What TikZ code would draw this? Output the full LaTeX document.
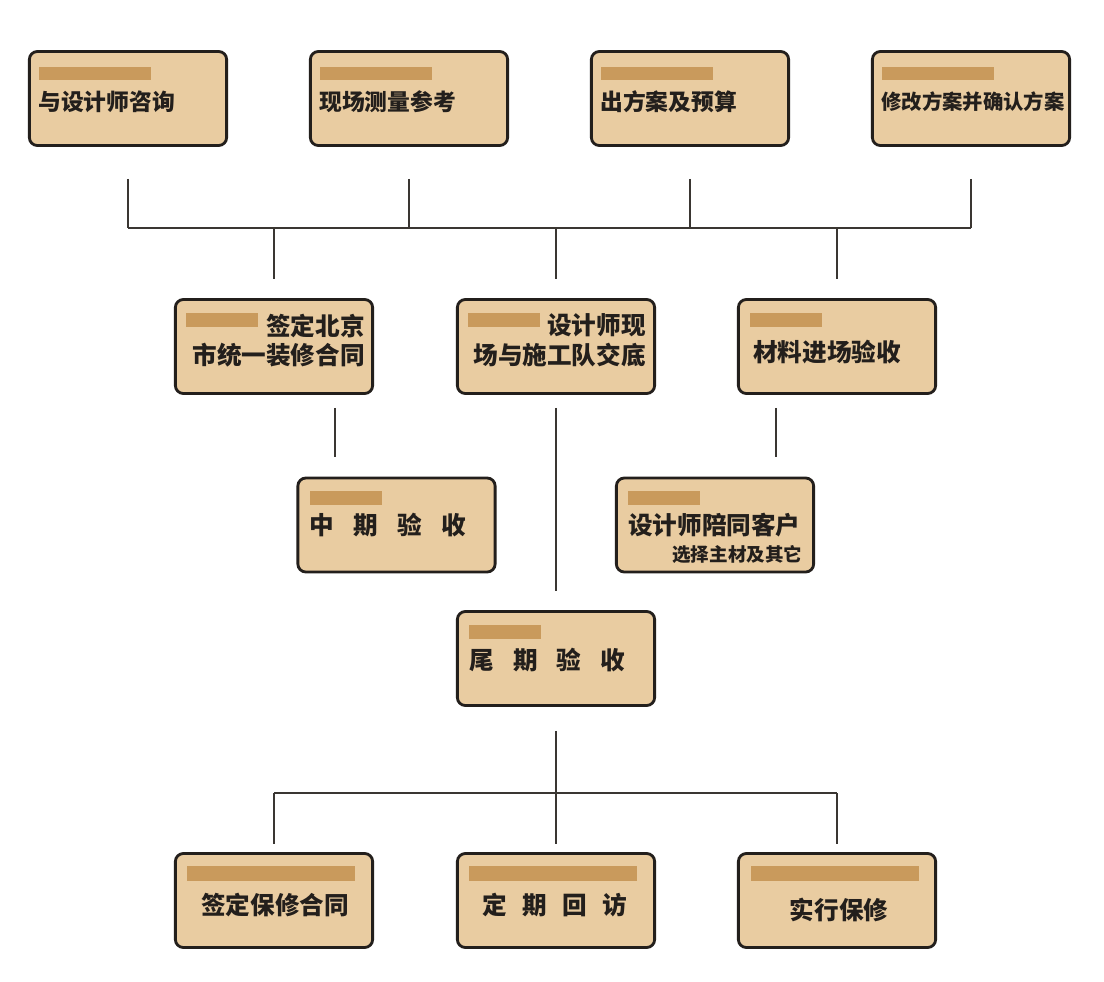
\documentclass[tikz,border=0pt]{standalone}
\usepackage{fontspec}
\newfontfamily\cjk{Noto Sans CJK SC}
\usetikzlibrary{calc}
\definecolor{boxfill}{HTML}{E9CCA1}
\definecolor{barfill}{HTML}{C99A5C}
\definecolor{boxline}{HTML}{231F1C}
\definecolor{linkline}{HTML}{3A3632}

\begin{document}
\begin{tikzpicture}[x=0.025cm, y=-0.025cm,
	box/.style={draw=boxline, line width=2pt, fill=boxfill, rounded corners=0.2cm, minimum width=4.93cm, minimum height=2.35cm, inner sep=0pt},
	boxtext/.style={font=\cjk\bfseries\fontsize{17.5}{18.6}\selectfont, text=boxline, inner sep=0pt},
	toptext/.style={boxtext, font=\cjk\bfseries\fontsize{16.2}{17}\selectfont},
	link/.style={draw=linkline, line width=1.4pt}]
	\useasboundingbox (0,0) rectangle (1104,981);
	% boxes
	\node[box] (t1) at (128,98.5) {};
	\node[box] (t2) at (409,98.5) {};
	\node[box] (t3) at (690,98.5) {};
	\node[box] (t4) at (971,98.5) {};
	\node[box] (m1) at (274,346.5) {};
	\node[box] (m2) at (556,346.5) {};
	\node[box] (m3) at (837,346.5) {};
	\node[box] (s1) at (396.5,525) {};
	\node[box] (s2) at (715,525) {};
	\node[box] (f1) at (556,658.5) {};
	\node[box] (b1) at (274,900.5) {};
	\node[box] (b2) at (556,900.5) {};
	\node[box] (b3) at (837,900.5) {};
	% bars
	\foreach \n in {t1,t2,t3,t4}
		\fill[barfill] ($(\n.north west)+(11.5,17)$) rectangle ++(112,13);
	\foreach \n/\dx in {m1/12.5,m2/12.5,m3/13.5,s1/14,s2/13.5,f1/13.5}
		\fill[barfill] ($(\n.north west)+(\dx,14.5)$) rectangle ++(72,14);
	\foreach \n/\dx in {b1/13.5,b2/13.5,b3/14.5}
		\fill[barfill] ($(\n.north west)+(\dx,13.5)$) rectangle ++(168,15);
	% texts
	\node[toptext, anchor=west] (t1l) at ($(t1.north west)+(10,52)$) {与设计师咨询};
	\node[toptext, anchor=west] (t2l) at ($(t2.north west)+(10,52)$) {现场测量参考};
	\node[toptext, anchor=west] (t3l) at ($(t3.north west)+(10,52)$) {出方案及预算};
	\node[toptext, anchor=west, font=\cjk\bfseries\fontsize{14.5}{15}\selectfont] (t4l) at ($(t4.north west)+(10,52)$) {修改方案并确认方案};
	\node[boxtext, anchor=east, align=right] (m1l) at ($(m1.east)+(-9,-6)$) {签定北京\\[2.5pt]市统一装修合同};
	\node[boxtext, anchor=east, align=right] (m2l) at ($(m2.east)+(-10,-6)$) {设计师现\\[2.5pt]场与施工队交底};
	\node[boxtext, anchor=west] (m3l) at ($(m3.west)+(16,6)$) {材料进场验收};
	\node[boxtext, anchor=west] (s1l) at ($(s1.west)+(13,0)$) {中\hspace{0.78em}期\hspace{0.78em}验\hspace{0.78em}收};
	\node[boxtext, anchor=west] (s2l) at ($(s2.west)+(13,0)$) {设计师陪同客户};
	\node[boxtext, anchor=east, font=\cjk\bfseries\fontsize{13.2}{14}\selectfont] (s2m) at ($(s2.east)+(-12.5,29)$) {选择主材及其它};
	\node[boxtext, anchor=west] (f1l) at ($(f1.west)+(13,1.5)$) {尾\hspace{0.78em}期\hspace{0.78em}验\hspace{0.78em}收};
	\node[boxtext] (b1l) at ($(b1.center)+(1,4.5)$) {签定保修合同};
	\node[boxtext] (b2l) at ($(b2.center)+(-1,4.5)$) {定\hspace{0.62em}期\hspace{0.62em}回\hspace{0.62em}访};
	\node[boxtext] (b3l) at ($(b3.center)+(2,9.5)$) {实行保修};
	% connectors
	\coordinate (bus1) at (0,228);
	\coordinate (bus2) at (0,793);
	\foreach \n in {t1,t2,t3,t4}
		\draw[link] ($(\n.south)+(0,32)$) -- (\n.south |- bus1);
	\draw[link] (t1.south |- bus1) -- (t4.south |- bus1);
	\foreach \n in {m1,m2,m3}
		\draw[link] (\n.north |- bus1) -- ($(\n.north)+(0,-19)$);
	\coordinate (c1) at ($(m1.south)!0.5!(s1.north)$);
	\coordinate (c2) at ($(m3.south)!0.5!(s2.north)$);
	\draw[link] ($(c1 |- m1.south)+(0,13)$) -- ($(c1 |- s1.north)+(0,-20)$);
	\draw[link] ($(c2 |- m3.south)+(0,13)$) -- ($(c2 |- s2.north)+(0,-20)$);
	\draw[link] ($(m2.south)+(0,13)$) -- ($(f1.north)+(0,-19)$);
	\draw[link] ($(f1.south)+(0,24)$) -- (f1.south |- bus2);
	\draw[link] (b1.north |- bus2) -- (b3.north |- bus2);
	\foreach \n in {b1,b2,b3}
		\draw[link] (\n.north |- bus2) -- ($(\n.north)+(0,-8)$);
\end{tikzpicture}
\end{document}
